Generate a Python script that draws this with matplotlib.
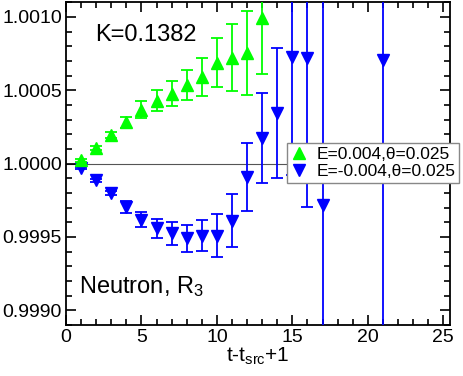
import matplotlib
matplotlib.use("Agg")
import matplotlib.pyplot as plt
from matplotlib.lines import Line2D
from matplotlib.ticker import MultipleLocator, FormatStrFormatter

plt.rcParams['font.family'] = ['Liberation Sans', 'DejaVu Sans']
plt.rcParams['mathtext.default'] = 'regular'

# Data
t_pos = [1, 2, 3, 4, 5, 6, 7, 8, 9, 10, 11, 12, 13]
r_pos = [1.000022, 1.000107, 1.000193, 1.000281, 1.000367, 1.000429, 1.000476,
         1.000537, 1.000590, 1.000689, 1.000723, 1.000753, 1.000991]
e_pos = [0.000010, 0.000012, 0.000020, 0.000037, 0.000057, 0.000070, 0.000085,
         0.000100, 0.000127, 0.000167, 0.000226, 0.000285, 0.000380]

t_neg = [1, 2, 3, 4, 5, 6, 7, 8, 9, 10, 11, 12, 13, 14, 15, 16, 17, 21]
r_neg = [0.999971, 0.999886, 0.999801, 0.999703, 0.999619, 0.999558, 0.999524,
         0.999490, 0.999510, 0.999510, 0.999612, 0.999910, 1.000175, 1.000345,
         1.000726, 1.000719, 0.999721, 1.000707]
e_neg = [0.000008, 0.000010, 0.000015, 0.000042, 0.000054, 0.000067, 0.000080,
         0.000093, 0.000107, 0.000145, 0.000180, 0.000230, 0.000310, 0.000443,
         0.000800, 0.001016, 0.003000, 0.003000]

label_pos = 'E=0.004,\u03b8=0.025'
label_neg = 'E=-0.004,\u03b8=0.025'

green = '#00ff00'
blue = '#0000ff'

fig = plt.figure(figsize=(4.63, 3.76), dpi=100)
ax = fig.add_axes([66/463, 1 - 325/376, 384/463, 322.7/376])

ax.axhline(1.0, color='#555555', lw=0.8, zorder=1)

ax.errorbar(t_neg, r_neg, yerr=e_neg, fmt='v', color=blue, ms=8,
            elinewidth=1.3, capsize=4.3, capthick=1.3, zorder=3)
ax.errorbar(t_pos, r_pos, yerr=e_pos, fmt='^', color=green, ms=8,
            elinewidth=1.3, capsize=4.3, capthick=1.3, zorder=4)

ax.set_xlim(0, 25.45)
ax.set_ylim(0.9989, 1.0011)
ax.xaxis.set_major_locator(MultipleLocator(5))
ax.xaxis.set_minor_locator(MultipleLocator(1))
ax.yaxis.set_major_locator(MultipleLocator(0.0005))
ax.yaxis.set_minor_locator(MultipleLocator(0.0001))
ax.yaxis.set_major_formatter(FormatStrFormatter('%.4f'))
ax.tick_params(which='both', direction='in', top=True, right=True,
               width=1.2, labelsize=14)
ax.tick_params(which='major', length=7, pad=3)
ax.tick_params(which='minor', length=4)
for s in ax.spines.values():
    s.set_linewidth(1.3)

ax.set_xlabel('t-t$_{src}$+1', fontsize=15, labelpad=0)

ax.text(0.0755, 0.881, 'K=0.1382', transform=ax.transAxes, fontsize=17,
        va='baseline', ha='left')
ax.text(0.034, 0.098, 'Neutron, R$_3$', transform=ax.transAxes, fontsize=17,
        va='baseline', ha='left')

handles = [Line2D([], [], ls='none', marker='^', color=green, ms=8),
           Line2D([], [], ls='none', marker='v', color=blue, ms=8)]
leg = ax.legend(handles, [label_pos, label_neg], loc='upper right',
                bbox_to_anchor=(459/463, 1 - 143.3/376),
                bbox_transform=fig.transFigure, fontsize=12.5,
                frameon=True, fancybox=False, framealpha=1,
                edgecolor='#888888', handlelength=1.0, handletextpad=0.5,
                borderpad=0.2, labelspacing=0.12, borderaxespad=0)
leg.get_frame().set_linewidth(1.0)
leg.set_zorder(10)

fig.savefig('out.png', dpi=100)
